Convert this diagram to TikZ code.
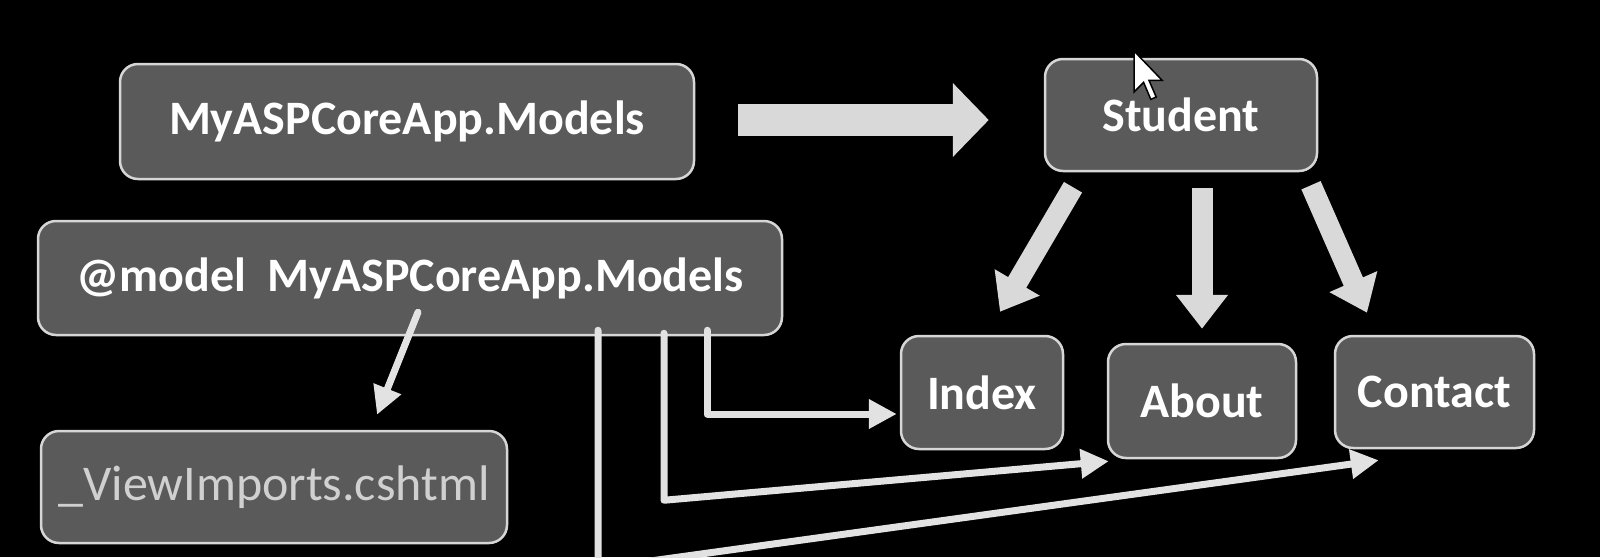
\documentclass[tikz,border=0pt]{standalone}
\usepackage{fontspec}
\setmainfont{Carlito}
\usetikzlibrary{arrows.meta,calc}
\definecolor{boxfill}{HTML}{5A5A5A}
\definecolor{boxline}{HTML}{D6D6D6}
\definecolor{arrowgray}{HTML}{D9D9D9}
\definecolor{linegray}{HTML}{E2E2E2}
\definecolor{dimtext}{HTML}{D0D0D0}
\tikzset{
  box/.style={draw=boxline, line width=2.5pt, fill=boxfill, rounded corners=18pt,
    inner sep=0pt, text=white, font=\fontsize{48}{58}\selectfont\bfseries},
  bigarrow/.style={draw=arrowgray, line width=32pt, -{Triangle[length=36pt,width=72pt]}},
  midarrow/.style={draw=arrowgray, line width=21pt, -{Triangle[length=34pt,width=50pt]}},
  thinarrow/.style={draw=linegray, line width=7pt, line cap=round, line join=round,
    -{Triangle[length=28pt,width=28pt]}},
}
\begin{document}
\begin{tikzpicture}[x=1pt,y=-1pt]
\useasboundingbox (0,0) rectangle (1600,557);
\clip (0,0) rectangle (1600,557);
\fill[black] (0,0) rectangle (1600,557);

\node[box, minimum width=574pt, minimum height=115pt] (models) at (407,121.5) {MyASPCoreApp.Models};
\node[box, minimum width=272pt, minimum height=112pt] (student) at (1181,115) {Student};
\node[box, minimum width=744pt, minimum height=114pt] (decl) at (410,278) {@model\ \ MyASPCoreApp.Models};
\node[box, minimum width=466pt, minimum height=112pt, text=dimtext, font=\fontsize{50}{60}\selectfont] (imports) at (274,487) {\_ViewImports.cshtml};
\node[box, minimum width=162pt, minimum height=113pt] (index) at (982,392.5) {Index};
\node[box, minimum width=188pt, minimum height=114pt] (about) at (1202,401) {About};
\node[box, minimum width=199pt, minimum height=112pt] (contact) at (1434.5,392) {Contact};

% big arrow models -> student
\draw[bigarrow] ($(models.east)+(43,-1.5)$) -- ($(student.west)+(-55,5)$);

% student -> views
\draw[midarrow] ($(student.south)+(-108,15)$) -- ($(index.north)+(18,-23)$);
\draw[midarrow] ($(student.south)+(21,16)$) -- ($(about.north)+(0,-14)$);
\draw[midarrow] ($(student.south)+(130,13)$) -- ($(contact.north)+(-67.5,-22)$);

% @model -> _ViewImports
\draw[thinarrow] ($(decl.south)+(8,-24)$) -- ($(imports.north)+(103,-15)$);

% @model -> Index
\draw[thinarrow] ($(decl.south)+(297,-6)$) |- ($(index.west)+(-3,21.5)$);

% @model -> About
\coordinate (acorner) at ($(decl.south)+(254,164)$);
\draw[thinarrow] ($(decl.south)+(254,-3)$) -- (acorner) -- ($(about.south west)+(2,2)$);

% @model -> Contact
\coordinate (ccorner) at ($(decl.south)+(188,232)$);
\draw[thinarrow] ($(decl.south)+(188,-6)$) -- (ccorner) -- ($(contact.south west)+(45,11)$);

% mouse cursor
\filldraw[fill=white, draw=black, line width=1.5pt, line join=miter]
  (1134,51) -- ++(0,41) -- ++(9.6,-9.6) -- ++(7.2,17) -- ++(5.4,-2.4) -- ++(-7.2,-16.6) -- ++(13.2,0) -- cycle;
\end{tikzpicture}
\end{document}
